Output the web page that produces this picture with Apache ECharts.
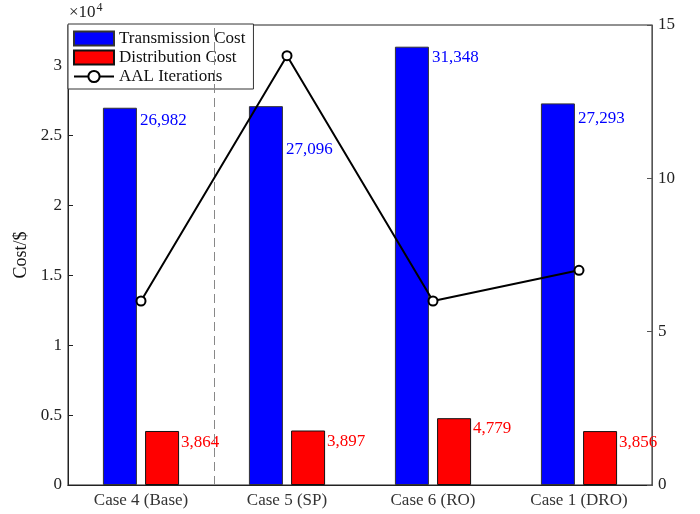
<!DOCTYPE html>
<html><head><meta charset="utf-8">
<script src="https://cdn.jsdelivr.net/npm/echarts@6/dist/echarts.min.js"></script>
<style>html,body{margin:0;padding:0;background:#fff}#c{width:700px;height:514px}</style>
</head><body><div id="c"></div>
<script>
const categories = ['Case 4 (Base)', 'Case 5 (SP)', 'Case 6 (RO)', 'Case 1 (DRO)'];
const transmission = [26982, 27096, 31348, 27293];
const distribution = [3864, 3897, 4779, 3856];
const iterations = [6, 14, 6, 7];
const transLabelDy = [4, 35, 2, 7];
const distLabelDy = [3, 3, 2, 3];
const separatorAt = [1];

const FONT = 'Liberation Serif';
const FS = 17;
const fmt = v => v.toLocaleString('en-US');

const chart = echarts.init(document.getElementById('c'));
chart.setOption({
  animation: false,
  textStyle: { fontFamily: FONT },
  grid: { left: 68, right: 48, top: 25, bottom: 29, show: true, borderColor: '#222', borderWidth: 1 },
  legend: {
    orient: 'vertical', left: 68, top: 24,
    backgroundColor: '#fff', borderColor: '#333', borderWidth: 1,
    padding: [6, 8, 4, 5], itemGap: 2, itemWidth: 40, itemHeight: 14,
    textStyle: { fontFamily: FONT, fontSize: FS, color: '#111' },
    data: [
      { name: 'Transmission Cost', icon: 'rect' },
      { name: 'Distribution Cost', icon: 'rect' },
      { name: 'AAL Iterations' }
    ]
  },
  graphic: [{
    type: 'text', left: 69, top: 2,
    style: {
      text: '×10{s|4}', fontFamily: FONT, fontSize: FS, fill: '#222',
      rich: { s: { fontSize: 12, verticalAlign: 'top', padding: [0, 0, 9, 1], fontFamily: FONT, fill: '#222' } }
    }
  }],
  xAxis: [{
    type: 'category', data: categories, position: 'bottom',
    axisLine: { lineStyle: { color: '#222' } },
    axisTick: { inside: true, alignWithLabel: true, length: 5, lineStyle: { color: '#222' } },
    axisLabel: { fontFamily: FONT, fontSize: FS, color: '#333', margin: 7 },
    splitLine: { show: false }
  }, {
    type: 'category', data: categories, position: 'top',
    axisLine: { lineStyle: { color: '#222' } },
    axisTick: { inside: true, alignWithLabel: true, length: 5, lineStyle: { color: '#222' } },
    axisLabel: { show: false }, splitLine: { show: false }
  }, {
    type: 'value', min: 0, max: categories.length, show: false
  }],
  yAxis: [{
    type: 'value', min: 0, max: 32900, interval: 5000, position: 'left',
    name: 'Cost/$', nameLocation: 'middle', nameGap: 35, nameRotate: 90,
    nameTextStyle: { fontFamily: FONT, fontSize: 18, color: '#111' },
    axisLine: { show: true, lineStyle: { color: '#222' } },
    axisTick: { show: true, inside: true, length: 5, lineStyle: { color: '#222' } },
    axisLabel: { fontFamily: FONT, fontSize: FS, color: '#222', margin: 6, showMaxLabel: false, formatter: v => String(v / 10000) },
    splitLine: { show: false }
  }, {
    type: 'value', min: 0, max: 15, interval: 5, position: 'right',
    axisLine: { show: true, lineStyle: { color: '#555' } },
    axisTick: { show: true, inside: true, length: 5, lineStyle: { color: '#555' } },
    axisLabel: { fontFamily: FONT, fontSize: FS, color: '#222', margin: 6 },
    splitLine: { show: false }
  }],
  series: [{
    name: 'Transmission Cost', type: 'bar', barWidth: 34, barGap: '24%',
    itemStyle: { color: '#0000ff', borderColor: '#333', borderWidth: 1 },
    data: transmission.map((v, i) => ({
      value: v,
      label: { show: true, position: [37, transLabelDy[i]], formatter: fmt(v), color: '#0000ff', fontFamily: FONT, fontSize: FS }
    }))
  }, {
    name: 'Distribution Cost', type: 'bar', barWidth: 34,
    itemStyle: { color: '#ff0000', borderColor: '#111', borderWidth: 1 },
    data: distribution.map((v, i) => ({
      value: v,
      label: { show: true, position: [36, distLabelDy[i]], formatter: fmt(v), color: '#ff0000', fontFamily: FONT, fontSize: FS }
    }))
  }, {
    name: 'AAL Iterations', type: 'line', yAxisIndex: 1, data: iterations,
    symbol: 'emptyCircle', symbolSize: 9,
    lineStyle: { color: '#000', width: 2 },
    itemStyle: { color: '#000', borderColor: '#000', borderWidth: 2 },
    z: 5
  }, {
    name: 'separator', type: 'line', xAxisIndex: 2, yAxisIndex: 0, data: [],
    silent: true,
    markLine: {
      symbol: 'none', silent: true, label: { show: false },
      lineStyle: { color: '#888', type: [9, 5], width: 1 },
      data: separatorAt.map(x => ({ xAxis: x }))
    }
  }]
});
</script></body></html>
